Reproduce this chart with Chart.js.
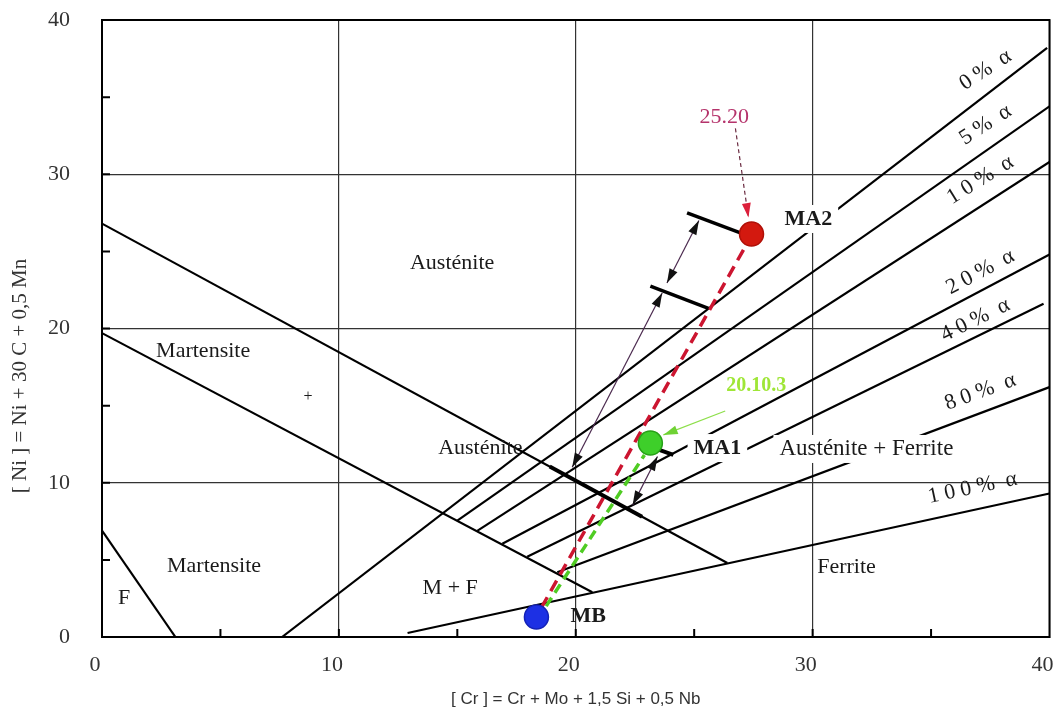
<!DOCTYPE html>
<html>
<head>
<meta charset="utf-8">
<script src="https://cdn.jsdelivr.net/npm/chart.js@4.4.1/dist/chart.umd.min.js"></script>
<style>
  html, body { margin: 0; padding: 0; background: #fff; overflow: hidden; }
  #wrap { width: 1063px; height: 717px; }
</style>
</head>
<body>
<div id="wrap"><canvas id="schaeffler"></canvas></div>
<script>
// Schaeffler diagram: x = [Cr] equivalent, y = [Ni] equivalent
const xTicks = [0, 10, 20, 30, 40];
const yTicks = [0, 10, 20, 30, 40];

// phase boundaries
const lineF = [{x: 0, y: 6.9}, {x: 3.1, y: 0}];
const lineMartensite = [{x: 0, y: 19.7}, {x: 20.7, y: 2.9}];
const lineAustenite = [{x: 0, y: 26.8}, {x: 26.4, y: 4.8}];
const ferrite0 = [{x: 7.6, y: 0}, {x: 39.9, y: 38.2}];
const ferrite5 = [{x: 15.0, y: 7.55}, {x: 40, y: 34.4}];
const ferrite10 = [{x: 15.84, y: 6.88}, {x: 40, y: 30.8}];
const ferrite20 = [{x: 16.9, y: 6.05}, {x: 40, y: 24.8}];
const ferrite40 = [{x: 17.95, y: 5.2}, {x: 39.75, y: 21.6}];
const ferrite80 = [{x: 19.22, y: 4.2}, {x: 40, y: 16.2}];
const ferrite100 = [{x: 12.9, y: 0.26}, {x: 40, y: 9.3}];

// welds / base metal
const pointMA2 = [{x: 27.42, y: 26.12}];
const pointMA1 = [{x: 23.15, y: 12.57}];
const pointMB = [{x: 18.34, y: 1.3}];

// dilution paths
const pathRed = [{x: 18.55, y: 1.9}, {x: 27.3, y: 25.7}];
const pathGreen = [{x: 18.75, y: 2.0}, {x: 22.9, y: 11.8}];

// construction bars and dimension arrows
const barTop = [{x: 24.7, y: 27.5}, {x: 26.95, y: 26.2}];
const barMid = [{x: 23.15, y: 22.75}, {x: 25.6, y: 21.3}];
const barLow = [{x: 18.9, y: 11.05}, {x: 22.8, y: 7.8}];
const barMA1 = [{x: 22.96, y: 12.44}, {x: 24.12, y: 11.8}];
const dimUpper = [{x: 25.2, y: 27.0}, {x: 23.85, y: 22.95}];
const dimLong = [{x: 23.65, y: 22.3}, {x: 19.85, y: 11.0}];
const dimMA1 = [{x: 23.45, y: 11.7}, {x: 22.4, y: 8.55}];
const pointer2520 = [{x: 26.74, y: 32.97}, {x: 27.29, y: 27.2}];
const pointer20103 = [{x: 26.31, y: 14.65}, {x: 23.7, y: 13.1}];

const SERIF = '"Liberation Serif", "DejaVu Serif", serif';

const diagramLabels = [
  {text: 'Austénite', x: 14.78, y: 24.25},
  {text: 'Martensite', x: 4.27, y: 18.5},
  {text: 'Austénite', x: 15.97, y: 12.25},
  {text: 'Martensite', x: 4.73, y: 4.6},
  {text: 'M + F', x: 14.7, y: 3.18},
  {text: 'F', x: 0.93, y: 2.53},
  {text: 'Ferrite', x: 31.43, y: 4.54},
  {text: 'Austénite + Ferrite', x: 32.27, y: 12.19, box: true, size: 23},
  {text: 'MA2', x: 29.82, y: 27.1, bold: true, box: true},
  {text: 'MA1', x: 25.98, y: 12.25, bold: true, box: true},
  {text: 'MB', x: 20.53, y: 1.36, bold: true},
  {text: '25.20', x: 26.27, y: 33.71, color: '#b5336b'},
  {text: '20.10.3', x: 27.62, y: 16.27, color: '#9fe637', bold: true, size: 20},
  {text: '+', x: 8.7, y: 15.56, size: 16},
  {text: '0 %  α', x: 37.3, y: 36.76, angle: -33},
  {text: '5 %  α', x: 37.3, y: 33.2, angle: -33},
  {text: '1 0 %  α', x: 37.08, y: 29.63, angle: -32},
  {text: '2 0 %  α', x: 37.08, y: 23.66, angle: -28},
  {text: '4 0 %  α', x: 36.87, y: 20.55, angle: -26},
  {text: '8 0 %  α', x: 37.08, y: 15.88, angle: -20},
  {text: '1 0 0 %  α', x: 36.75, y: 9.66, angle: -12}
];

function edge(data, width, color) {
  return {data, showLine: true, borderColor: color || '#000', borderWidth: width || 2.2,
    pointRadius: 0, fill: false, tension: 0};
}
function dashed(data, color, dash) {
  return {data, showLine: true, borderColor: color, borderWidth: 3.5, borderDash: dash,
    pointRadius: 0, fill: false};
}
function marker(data, fill, stroke) {
  return {data, showLine: false, pointRadius: 12, pointBackgroundColor: fill,
    pointBorderColor: stroke, pointBorderWidth: 1.5};
}
function arrow(data, color, both, headColor, dash) {
  const ds = edge(data, 1.2, color);
  ds.arrow = {both: both, color: headColor || color};
  if (dash) ds.borderDash = dash;
  return ds;
}

function drawHead(ctx, from, to, color) {
  const ang = Math.atan2(to.y - from.y, to.x - from.x);
  const len = 15, spread = 0.3;
  ctx.fillStyle = color;
  ctx.beginPath();
  ctx.moveTo(to.x, to.y);
  ctx.lineTo(to.x - len * Math.cos(ang - spread), to.y - len * Math.sin(ang - spread));
  ctx.lineTo(to.x - len * Math.cos(ang + spread), to.y - len * Math.sin(ang + spread));
  ctx.closePath();
  ctx.fill();
}

const arrowHeads = {
  id: 'arrowHeads',
  afterDatasetsDraw(chart) {
    const ctx = chart.ctx;
    chart.data.datasets.forEach((ds, i) => {
      if (!ds.arrow) return;
      const pts = chart.getDatasetMeta(i).data;
      const a = pts[0], b = pts[pts.length - 1];
      ctx.save();
      drawHead(ctx, a, b, ds.arrow.color);
      if (ds.arrow.both) drawHead(ctx, b, a, ds.arrow.color);
      ctx.restore();
    });
  }
};

const frameAndTicks = {
  id: 'frameAndTicks',
  afterDatasetsDraw(chart) {
    const {ctx, chartArea: ca, scales: {x, y}} = chart;
    ctx.save();
    ctx.strokeStyle = '#000';
    ctx.lineWidth = 2;
    for (let v = 5; v < 40; v += 5) {
      const px = x.getPixelForValue(v), py = y.getPixelForValue(v);
      ctx.beginPath();
      ctx.moveTo(px, ca.bottom); ctx.lineTo(px, ca.bottom - 8);
      ctx.moveTo(ca.left, py); ctx.lineTo(ca.left + 8, py);
      ctx.stroke();
    }
    ctx.strokeRect(ca.left, ca.top, ca.right - ca.left, ca.bottom - ca.top);
    ctx.restore();
  }
};

const textLabels = {
  id: 'textLabels',
  afterDatasetsDraw(chart) {
    const {ctx, scales: {x, y}} = chart;
    for (const lab of diagramLabels) {
      ctx.save();
      ctx.translate(x.getPixelForValue(lab.x), y.getPixelForValue(lab.y));
      ctx.rotate((lab.angle || 0) * Math.PI / 180);
      ctx.font = (lab.bold ? 'bold ' : '') + (lab.size || 22) + 'px ' + SERIF;
      ctx.textAlign = 'center';
      ctx.textBaseline = 'middle';
      if (lab.box) {
        const w = ctx.measureText(lab.text).width;
        ctx.fillStyle = '#fff';
        ctx.fillRect(-w / 2 - 6, -14, w + 12, 28);
      }
      ctx.fillStyle = lab.color || '#1a1a1a';
      ctx.fillText(lab.text, 0, 0);
      ctx.restore();
    }
    // y axis title
    ctx.save();
    ctx.translate(20, 376);
    ctx.rotate(-Math.PI / 2);
    ctx.font = '21px ' + SERIF;
    ctx.fillStyle = '#333';
    ctx.textAlign = 'center';
    ctx.textBaseline = 'middle';
    ctx.fillText('[ Ni ] = Ni + 30 C + 0,5 Mn', 0, 0);
    ctx.restore();
  }
};

new Chart(document.getElementById('schaeffler'), {
  type: 'scatter',
  data: {
    datasets: [
      marker(pointMA2, '#d3190f', '#b01008'),
      marker(pointMA1, '#3ecf2a', '#27a018'),
      marker(pointMB, '#1d30e4', '#1422b8'),
      arrow(pointer2520, '#6a2a40', false, '#dc1f3a', [4, 3]),
      arrow(pointer20103, '#8ddf4a', false, '#6fd235'),
      arrow(dimUpper, '#4b2a4f', true, '#111'),
      arrow(dimLong, '#4b2a4f', true, '#111'),
      arrow(dimMA1, '#4b2a4f', true, '#111'),
      edge(barTop, 3.5), edge(barMid, 3.5), edge(barLow, 4), edge(barMA1, 4),
      dashed(pathRed, '#cc1530', [12, 7]),
      dashed(pathGreen, '#4fcc23', [10, 6]),
      edge(lineF), edge(lineMartensite), edge(lineAustenite),
      edge(ferrite0), edge(ferrite5), edge(ferrite10), edge(ferrite20),
      edge(ferrite40), edge(ferrite80), edge(ferrite100)
    ]
  },
  options: {
    responsive: true,
    maintainAspectRatio: false,
    animation: false,
    events: [],
    layout: {padding: {top: 20, right: 0, left: 0, bottom: 0}},
    plugins: {legend: {display: false}, tooltip: {enabled: false}},
    scales: {
      x: {
        type: 'linear', min: 0, max: 40,
        afterBuildTicks: s => { s.ticks = xTicks.map(v => ({value: v})); },
        afterFit: s => { s.height = 80; s.paddingLeft = 0; s.paddingRight = 0; },
        grid: {color: '#333', lineWidth: 1.2, drawTicks: false},
        border: {color: '#000', width: 2},
        ticks: {padding: 15, labelOffset: -7, color: '#333', font: {family: SERIF, size: 22}},
        title: {display: true, text: '[ Cr ] = Cr + Mo + 1,5 Si + 0,5 Nb', color: '#333',
          font: {family: '"Liberation Sans", Arial, sans-serif', size: 17}, padding: {top: 0, bottom: 7}}
      },
      y: {
        type: 'linear', min: 0, max: 40,
        afterBuildTicks: s => { s.ticks = yTicks.map(v => ({value: v})); },
        afterFit: s => { s.width = 102; s.paddingTop = 0; s.paddingBottom = 0; },
        grid: {color: '#333', lineWidth: 1.2, drawTicks: false},
        border: {color: '#000', width: 2},
        ticks: {padding: 32, color: '#333', font: {family: SERIF, size: 22}}
      }
    }
  },
  plugins: [arrowHeads, frameAndTicks, textLabels]
});
</script>
</body>
</html>
